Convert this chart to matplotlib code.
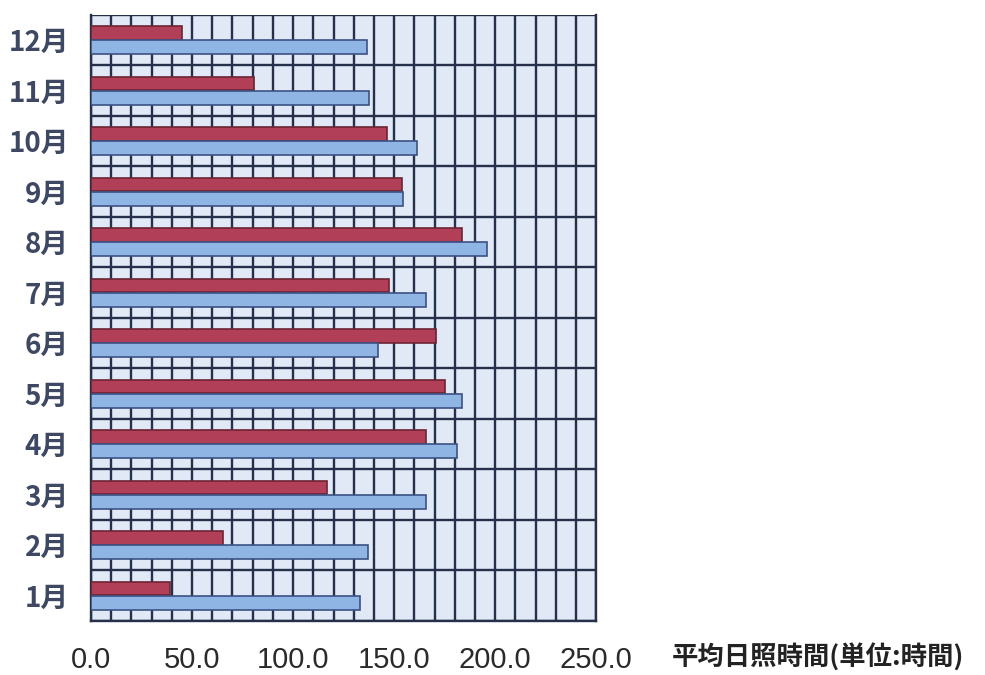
import matplotlib
matplotlib.use("Agg")
import matplotlib.pyplot as plt
import numpy as np

# months, bottom to top
months = ["1月", "2月", "3月", "4月", "5月", "6月",
          "7月", "8月", "9月", "10月", "11月", "12月"]
# upper (red) and lower (blue) bar of each month, hours
red_hours = [39, 65.5, 117, 165.5, 175, 170.5, 147.5, 183.5, 154, 146.5, 80.5, 45]
blue_hours = [133, 137, 165.5, 181, 183.5, 142, 165.5, 196, 154.5, 161.5, 137.5, 136.5]
x_ticks = [0, 50, 100, 150, 200, 250]
x_label = "平均日照時間(単位:時間)"

cjk = ["Noto Sans CJK JP", "DejaVu Sans"]
grid_col = "#27304a"
text_col = "#3e4863"

fig = plt.figure(figsize=(9.85, 6.75), dpi=100)
ax = fig.add_axes([0.0924, 0.08, 0.513, 0.898])
ax.set_facecolor("#e0e9f5")

y = np.arange(1, len(months) + 1)
bh = 0.27
off = 0.14

# grid: every 10 h vertically, month boundaries horizontally
for gx in np.arange(0, 251, 10):
    ax.axvline(gx, color=grid_col, lw=1.7, zorder=1)
for gy in np.arange(0.5, len(months) + 1, 1.0):
    ax.axhline(gy, color=grid_col, lw=1.7, zorder=1)

ax.barh(y + off, red_hours, height=bh, color="#b03f57",
        edgecolor="#6e2435", linewidth=1.2, zorder=3)
ax.barh(y - off, blue_hours, height=bh, color="#8fb5e4",
        edgecolor="#3d5185", linewidth=1.2, zorder=3)

ax.set_xlim(0, 250)
ax.set_ylim(0.5, len(months) + 0.5)

ax.set_yticks(y)
ax.set_yticklabels(months, family=cjk, fontsize=20, fontweight="bold",
                   color=text_col)
ax.set_xticks(x_ticks)
ax.set_xticklabels([f"{v:.1f}" for v in x_ticks], family="Liberation Sans",
                   fontsize=21, color="#2a2a2a")
ax.tick_params(axis="both", length=0)
ax.tick_params(axis="y", pad=16)
ax.tick_params(axis="x", pad=18)

for side in ["left", "bottom", "right"]:
    ax.spines[side].set_color(grid_col)
    ax.spines[side].set_linewidth(1.7)
ax.spines["top"].set_visible(False)

fig.text(0.83, 0.026, x_label, family=cjk, fontsize=19, fontweight="bold",
         color="#222222", ha="center", va="center")

fig.savefig("out.png", dpi=100, facecolor="white")
